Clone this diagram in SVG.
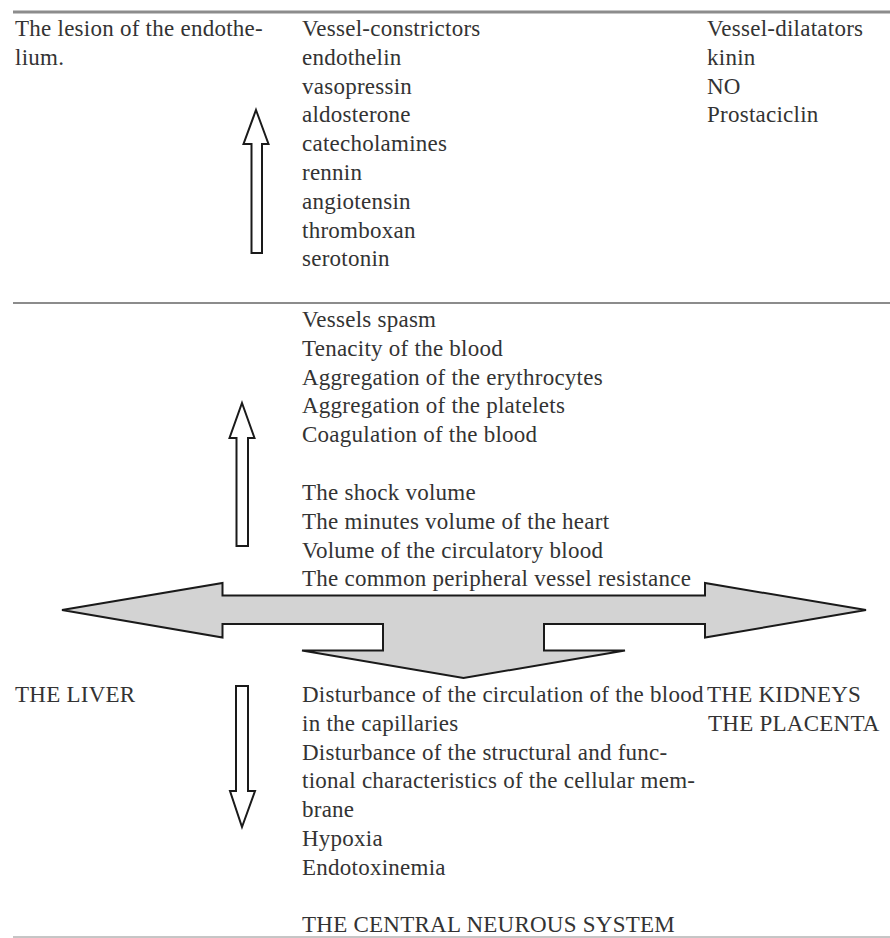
<svg xmlns="http://www.w3.org/2000/svg" width="890" height="938" viewBox="0 0 890 938">
<style>
  text { font-family: "Liberation Serif", "Times New Roman", serif; font-size: 23px; letter-spacing: 0.25px; fill: #333; }
  .rule { stroke: #8c8c8c; fill: none; }
  .hollow { fill: #fff; stroke: #1a1a1a; stroke-width: 2; stroke-linejoin: miter; }
  .big { fill: #d3d3d3; stroke: #1a1a1a; stroke-width: 2; stroke-linejoin: miter; }
</style>
<rect width="890" height="938" fill="#fff"/>
<g id="rules">
  <line class="rule" x1="13" y1="12" x2="890" y2="12" stroke-width="3"/>
  <line class="rule" x1="13" y1="303" x2="890" y2="303" stroke-width="2"/>
  <line class="rule" x1="13" y1="937" x2="890" y2="937" stroke-width="1" stroke="#d8d8d8"/>
</g>
<g id="connectors">
  <polygon class="hollow" points="256,110 268.5,144 262,144 262,253 251.5,253 251.5,144 243.5,144"/>
  <polygon class="hollow" points="242,403 254.5,438 248,438 248,546 236.5,546 236.5,438 229.5,438"/>
  <polygon class="hollow" points="236,686 248,686 248,791 255,791 242,827 230,791 236,791"/>
  <polygon class="big" points="62,610 222.5,583 222.5,595.5 705,595.5 705,583 866,610 705,637.5 705,624 544,624 544,650.5 625,650.5 463.5,678 302,650.5 383,650.5 383,624 222.5,624 222.5,637.5"/>
</g>
<g id="lesion">
  <text><tspan x="15" y="36">The lesion of the endothe-</tspan><tspan x="15" y="64.8">lium.</tspan></text>
</g>
<g id="constrictors">
  <text>
    <tspan x="302" y="36">Vessel-constrictors</tspan>
    <tspan x="302" y="64.8">endothelin</tspan>
    <tspan x="302" y="93.6">vasopressin</tspan>
    <tspan x="302" y="122.4">aldosterone</tspan>
    <tspan x="302" y="151.2">catecholamines</tspan>
    <tspan x="302" y="180">rennin</tspan>
    <tspan x="302" y="208.8">angiotensin</tspan>
    <tspan x="302" y="237.6">thromboxan</tspan>
    <tspan x="302" y="266.4">serotonin</tspan>
  </text>
</g>
<g id="dilatators">
  <text>
    <tspan x="707" y="36">Vessel-dilatators</tspan>
    <tspan x="707" y="64.8">kinin</tspan>
    <tspan x="707" y="93.6">NO</tspan>
    <tspan x="707" y="122.4">Prostaciclin</tspan>
  </text>
</g>
<g id="blood-effects">
  <text>
    <tspan x="302" y="327">Vessels spasm</tspan>
    <tspan x="302" y="355.8">Tenacity of the blood</tspan>
    <tspan x="302" y="384.6">Aggregation of the erythrocytes</tspan>
    <tspan x="302" y="413.4">Aggregation of the platelets</tspan>
    <tspan x="302" y="442.2">Coagulation of the blood</tspan>
  </text>
</g>
<g id="hemodynamics">
  <text>
    <tspan x="302" y="500">The shock volume</tspan>
    <tspan x="302" y="528.8">The minutes volume of the heart</tspan>
    <tspan x="302" y="557.6">Volume of the circulatory blood</tspan>
    <tspan x="302" y="586.4">The common peripheral vessel resistance</tspan>
  </text>
</g>
<g id="liver">
  <text x="15" y="702">THE LIVER</text>
</g>
<g id="disturbances">
  <text>
    <tspan x="302" y="702">Disturbance of the circulation of the blood</tspan>
    <tspan x="302" y="730.8">in the capillaries</tspan>
    <tspan x="302" y="759.6">Disturbance of the structural and func-</tspan>
    <tspan x="302" y="788.4">tional characteristics of the cellular mem-</tspan>
    <tspan x="302" y="817.2">brane</tspan>
    <tspan x="302" y="846">Hypoxia</tspan>
    <tspan x="302" y="874.8">Endotoxinemia</tspan>
  </text>
</g>
<g id="organs">
  <text><tspan x="707" y="702">THE KIDNEYS</tspan><tspan x="708" y="730.8">THE PLACENTA</tspan></text>
</g>
<g id="cns">
  <text x="302" y="932.4">THE CENTRAL NEUROUS SYSTEM</text>
</g>
</svg>
